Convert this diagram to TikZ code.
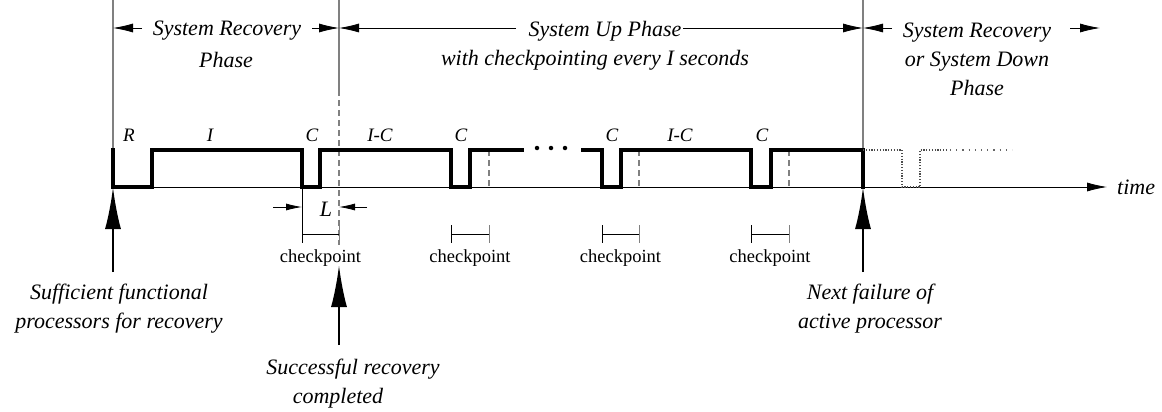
\documentclass[tikz,border=0pt]{standalone}
\usepackage{fontspec}
\setmainfont{Liberation Serif}
\usetikzlibrary{arrows.meta}
\begin{document}
\begin{tikzpicture}[x=1pt,y=-1pt,
  wave/.style={line width=3.3pt, line join=miter, line cap=rect},
  guide/.style={draw=black!50, line width=1.2pt},
  ckdash/.style={draw=black!50, line width=1.2pt, dash pattern=on 6pt off 4pt},
  ghost/.style={draw=black!70, line width=1.1pt, dash pattern=on 1.2pt off 1.6pt},
  ghostloose/.style={draw=black!60, line width=1.1pt, dash pattern=on 1.2pt off 5pt},
  phasearr/.style={-{Latex[length=20pt,width=9pt]}, line width=0.8pt},
  larr/.style={-{Latex[length=16pt,width=7pt]}, line width=0.8pt},
  bigarr/.style={-{Latex[length=42pt,width=16pt]}, line width=2.4pt},
  thin/.style={line width=0.8pt},
  lab/.style={font=\fontsize{19}{22}\selectfont\itshape, inner sep=0pt},
  itl/.style={font=\fontsize{22}{29}\selectfont\itshape, align=center, inner sep=0pt},
  ck/.style={font=\fontsize{18.5}{22}\selectfont, inner sep=0pt},
  dot/.style={circle, fill=black, inner sep=0pt, minimum size=4.5pt}
]
\useasboundingbox (0,0) rectangle (1162,412);

% coordinates
\coordinate (t0) at (113,0);
\coordinate (t1) at (339,0);
\coordinate (t2) at (863,0);
\coordinate (g0) at (113,150);
\coordinate (g1a) at (339,90);
\coordinate (g1b) at (339,245);
\coordinate (g2) at (863,150);
\coordinate (a0) at (113,187);
\coordinate (aend) at (1107,187);

% phase boundary guides
\draw[guide] (t0) -- (g0);
\draw[guide] (t1) -- (g1a);
\draw[ckdash] (g1a) -- (g1b);
\draw[guide] (t2) -- (g2);

% time axis
\draw[thin, -{Latex[length=20pt,width=9pt]}] (a0) -- (aend);
\node[itl, anchor=west] (time) at (1117,187) {time};

% checkpoint dashed lines
\foreach \x in {489,639,789}{
  \draw[ckdash] (\x,150) -- (\x,187);
}

% waveform
\draw[wave] (113,150) -- (113,187) -- (152,187) -- (152,150) -- (302,150) -- (302,187)
  -- (320,187) -- (320,150) -- (451,150) -- (451,187) -- (470,187) -- (470,150) -- (522,150);
\draw[wave] (583,150) -- (602,150) -- (602,187) -- (621,187) -- (621,150) -- (751,150)
  -- (751,187) -- (771,187) -- (771,150) -- (863,150) -- (863,187);
\node[dot] (d1) at (537,148) {};
\node[dot] (d2) at (551,148) {};
\node[dot] (d3) at (565,148) {};

% ghost continuation
\draw[ghost] (863,150) -- (902,150) -- (902,187) -- (920,187) -- (920,150) -- (946,150);
\draw[ghostloose] (950,150) -- (1012,150);

% segment labels
\node[lab] (lR) at (129,135) {R};
\node[lab] (lI) at (210,135) {I};
\node[lab] (lC1) at (312,135) {C};
\node[lab] (lIC1) at (380,135) {I-C};
\node[lab] (lC2) at (461,135) {C};
\node[lab] (lC3) at (612,135) {C};
\node[lab] (lIC2) at (680,135) {I-C};
\node[lab] (lC4) at (762,135) {C};

% L dimension
\draw[thin] (302,187) -- (302,243);
\coordinate (la) at (273,207);
\coordinate (lb) at (302,207);
\coordinate (lc) at (367,207);
\coordinate (ld) at (339,207);
\draw[larr] (la) -- (lb);
\draw[larr] (lc) -- (ld);
\node[itl] (L) at (326,209) {L};

% checkpoint brackets
\foreach \a/\b in {302/339,451/489,602/639,751/789}{
  \draw[thin] (\a,234) -- (\b,234);
  \draw[thin] (\a,225) -- (\a,243);
  \draw[guide, line width=1pt] (\b,225) -- (\b,243);
  \node[ck] at ({(\a+\b)/2},258) {checkpoint};
}

% phase headings
\node[itl] (p1a) at (227,31) {System Recovery};
\node[itl] (p1b) at (226,60) {Phase};
\coordinate (p1l) at (142,28);
\coordinate (p1r) at (312,28);
\coordinate (p1lt) at (113,28);
\coordinate (p1rt) at (339,28);
\draw[phasearr] (p1l) -- (p1lt);
\draw[phasearr] (p1r) -- (p1rt);

\node[itl] (p2a) at (605,31) {System Up Phase};
\node[itl] (p2b) at (595,60) {with checkpointing every I seconds};
\coordinate (p2l) at (516,28);
\coordinate (p2r) at (683,28);
\coordinate (p2lt) at (339,28);
\coordinate (p2rt) at (863,28);
\draw[phasearr] (p2l) -- (p2lt);
\draw[phasearr] (p2r) -- (p2rt);

\node[itl] (p3) at (977,59) {System Recovery\\or System Down\\Phase};
\coordinate (p3l) at (892,28);
\coordinate (p3r) at (1070,28);
\coordinate (p3lt) at (863,28);
\coordinate (p3rt) at (1100,28);
\draw[phasearr] (p3l) -- (p3lt);
\draw[phasearr] (p3r) -- (p3rt);

% event arrows
\coordinate (e0) at (113,272);
\coordinate (e1) at (339,345);
\coordinate (e1t) at (339,265);
\coordinate (e2) at (863,272);
\coordinate (e2t) at (863,187);
\draw[bigarr] (e0) -- (a0);
\draw[bigarr] (e1) -- (e1t);
\draw[bigarr] (e2) -- (e2t);

\node[itl] (n0) at (119,309) {Sufficient functional\\processors for recovery};
\node[itl] (n1) at (353,384) {Successful recovery\\completed\hspace*{30pt}};
\node[itl] (n2) at (870,309) {Next failure of\\active processor};
\end{tikzpicture}
\end{document}
